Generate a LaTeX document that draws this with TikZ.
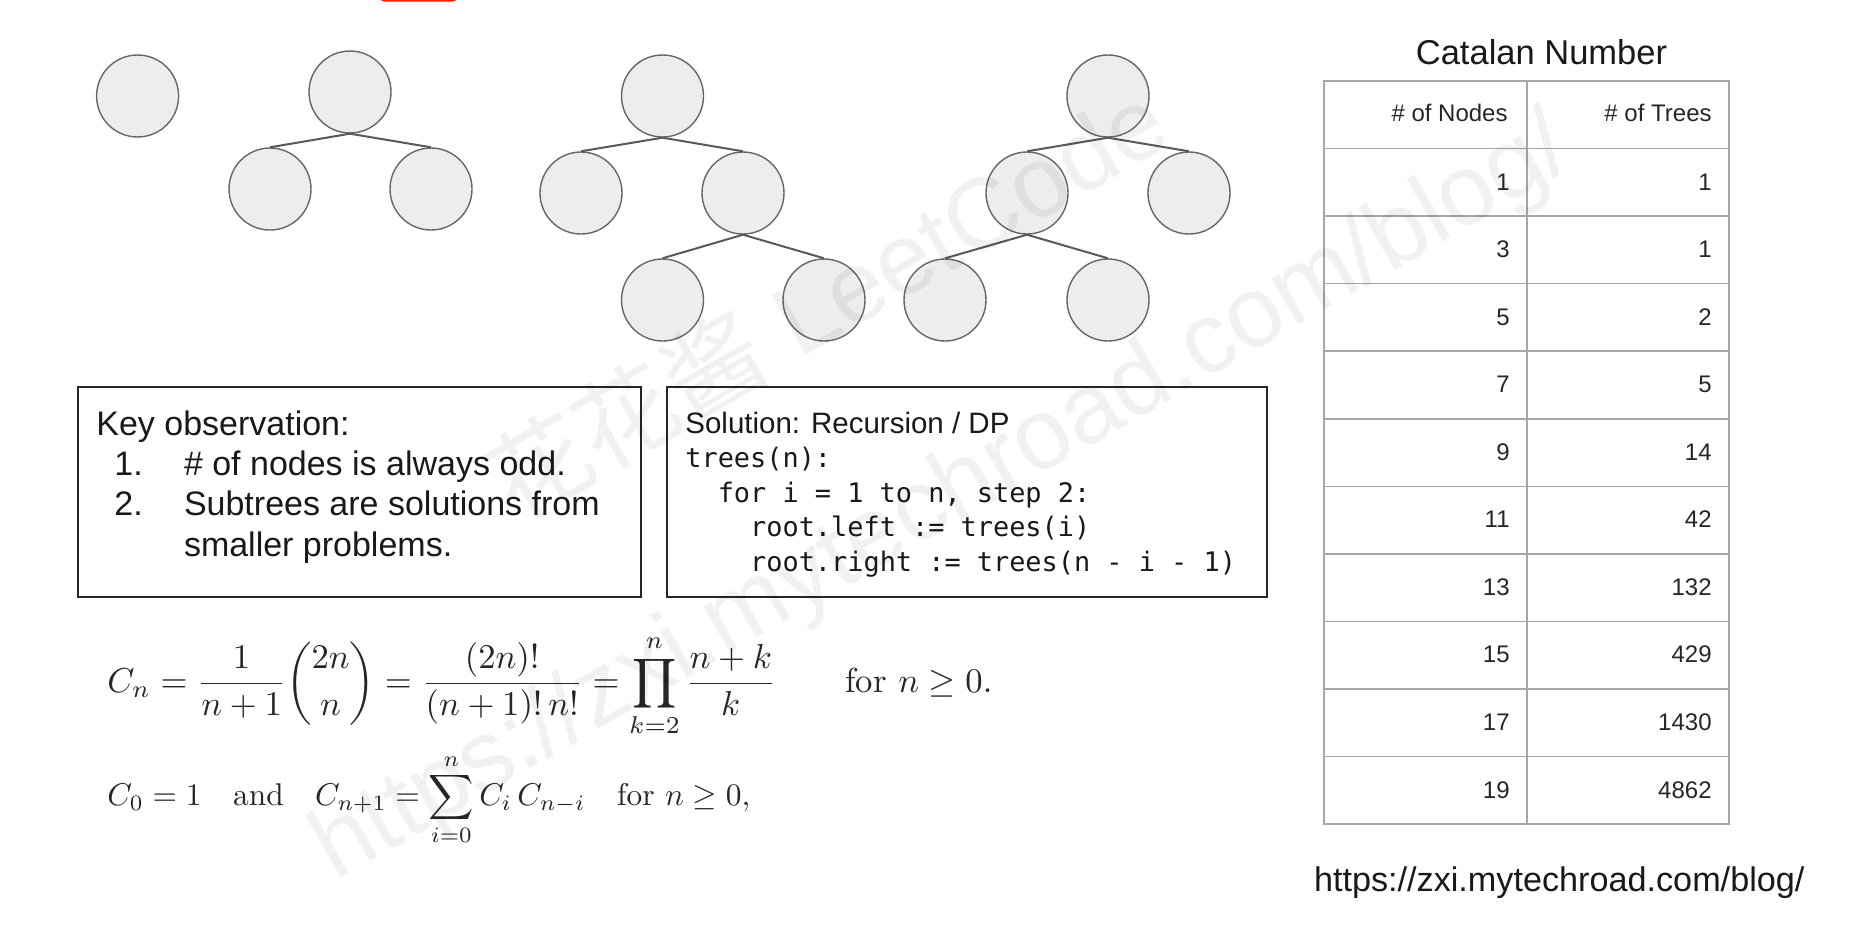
\documentclass[tikz,border=0pt]{standalone}
\usepackage{fontspec}
\usepackage{amsmath}
\usepackage{amssymb}
\usepackage{graphicx}
\newfontfamily\helv{Liberation Sans}
\newfontfamily\codef{DejaVu Sans Mono}
\newfontfamily\cjk{Noto Sans CJK SC}
\begin{document}
\begin{tikzpicture}[x=0.5pt,y=-0.5pt]
\tikzstyle{every node}+=[inner sep=0pt]
\tikzstyle{tnode}=[circle, draw=black!60, fill=black!7, line width=0.7pt, minimum size=41pt]
\tikzstyle{tedge}=[black!65, line width=1pt]
\tikzstyle{notebox}=[draw=black!85, line width=0.9pt, minimum height=105pt]
\tikzstyle{bigtext}=[text=black!90, font=\helv\fontsize{17pt}{20pt}\selectfont, anchor=base west]
\tikzstyle{codetext}=[text=black!90, font=\codef\fontsize{13.45pt}{16pt}\selectfont, anchor=base west]
\tikzstyle{cell}=[text=black!85, font=\helv\fontsize{12pt}{14pt}\selectfont, anchor=base east]
\tikzstyle{tabline}=[black!35, line width=0.8pt]
\tikzstyle{mathtext}=[text=black!85, anchor=west]
\tikzstyle{wmark}=[text=black, text opacity=0.055, rotate=30]
\useasboundingbox (0,0) rectangle (1860,938);
% cut off bar at the top
\fill [red!75!orange, rounded corners=2pt] (380,-20) rectangle (457,1.5);
% trees
\node [tnode] (one) at (137.6,96) {};
\node [tnode] (two) at (350,92) {};
\node [tnode] (twol) at (270,189) {};
\node [tnode] (twor) at (431,189) {};
\draw [tedge] (two.south) -- (twol.north);
\draw [tedge] (two.south) -- (twor.north);
\node [tnode] (thr) at (662.5,96) {};
\node [tnode] (thrl) at (581,193) {};
\node [tnode] (thrr) at (743,193) {};
\node [tnode] (thrrl) at (662.5,300) {};
\node [tnode] (thrrr) at (824,300) {};
\draw [tedge] (thr.south) -- (thrl.north);
\draw [tedge] (thr.south) -- (thrr.north);
\draw [tedge] (thrr.south) -- (thrrl.north);
\draw [tedge] (thrr.south) -- (thrrr.north);
\node [tnode] (fou) at (1108,96) {};
\node [tnode] (foul) at (1027,193) {};
\node [tnode] (four) at (1189,193) {};
\node [tnode] (foull) at (945,300) {};
\node [tnode] (foulr) at (1108,300) {};
\draw [tedge] (fou.south) -- (foul.north);
\draw [tedge] (fou.south) -- (four.north);
\draw [tedge] (foul.south) -- (foull.north);
\draw [tedge] (foul.south) -- (foulr.north);
% boxes
\node [notebox, minimum width=281.5pt] (obs) at (359.5,492) {};
\draw (96,435) node [bigtext] (obst) {Key observation:};
\draw (114,475) node [bigtext] (obsa) {1.};
\draw (183.6,475) node [bigtext] (obsat) {\# of nodes is always odd.};
\draw (114,515) node [bigtext] (obsb) {2.};
\draw (183.6,515) node [bigtext] (obsbt) {Subtrees are solutions from};
\draw (183.6,556) node [bigtext] (obsbu) {smaller problems.};
\node [notebox, minimum width=300pt] (sol) at (967,492) {};
\draw (685,433) node [bigtext, font=\helv\fontsize{14.75pt}{17pt}\selectfont] (solt) {Solution: Recursion / DP};
\draw (685,467.5) node [codetext] (code1) {trees(n):};
\draw (717.4,502) node [codetext] (code2) {for i = 1 to n, step 2:};
\draw (749.8,536.5) node [codetext] (code3) {root.left := trees(i)};
\draw (749.8,571) node [codetext] (code4) {root.right := trees(n - i - 1)};
% formulas
\node [mathtext] (cn) at (107,686) {\resizebox{442.5pt}{!}{$\displaystyle C_n=\frac{1}{n+1}\binom{2n}{n}=\frac{(2n)!}{(n+1)!\,n!}=\prod_{k=2}^{n}\frac{n+k}{k}\qquad\text{for }n\ge 0.$}};
\node [mathtext] (rec) at (107,800) {\resizebox{321.5pt}{!}{$\displaystyle C_0=1\quad\text{and}\quad C_{n+1}=\sum_{i=0}^{n}C_i\,C_{n-i}\quad\text{for }n\ge 0,$}};
% table
\draw (1541.5,64) node [text=black!90, font=\helv\fontsize{17.25pt}{20pt}\selectfont, anchor=base] (title) {Catalan Number};
\draw [tabline] (1324,81) rectangle (1729,824);
\draw [tabline] (1527,81) -- (1527,824);
\draw (1508,121.5) node [cell] (hnodes) {\# of Nodes};
\draw (1712,121.5) node [cell] (htrees) {\# of Trees};
\foreach \n/\t [count=\i] in {1/1,3/1,5/2,7/5,9/14,11/42,13/132,15/429,17/1430,19/4862}
{
  \draw [tabline] (1324,{81+67.55*\i}) -- (1729,{81+67.55*\i});
  \draw (1510,{81+67.55*(\i+0.5)+7.8}) node [cell] (nodes-\i) {\n};
  \draw (1712,{81+67.55*(\i+0.5)+7.8}) node [cell] (trees-\i) {\t};
}
\draw (1313.6,891) node [bigtext, font=\helv\fontsize{17.1pt}{20pt}\selectfont] (url) {https://zxi.mytechroad.com/blog/};
% watermark
\node [wmark, font=\helv\fontsize{50pt}{60pt}\selectfont] (wm1) at (826,300) {{\cjk 花花酱} LeetCode};
\node [wmark, font=\helv\fontsize{50pt}{60pt}\selectfont] (wm2) at (943,501) {https://zxi.mytechroad.com/blog/};
\end{tikzpicture}
\end{document}
